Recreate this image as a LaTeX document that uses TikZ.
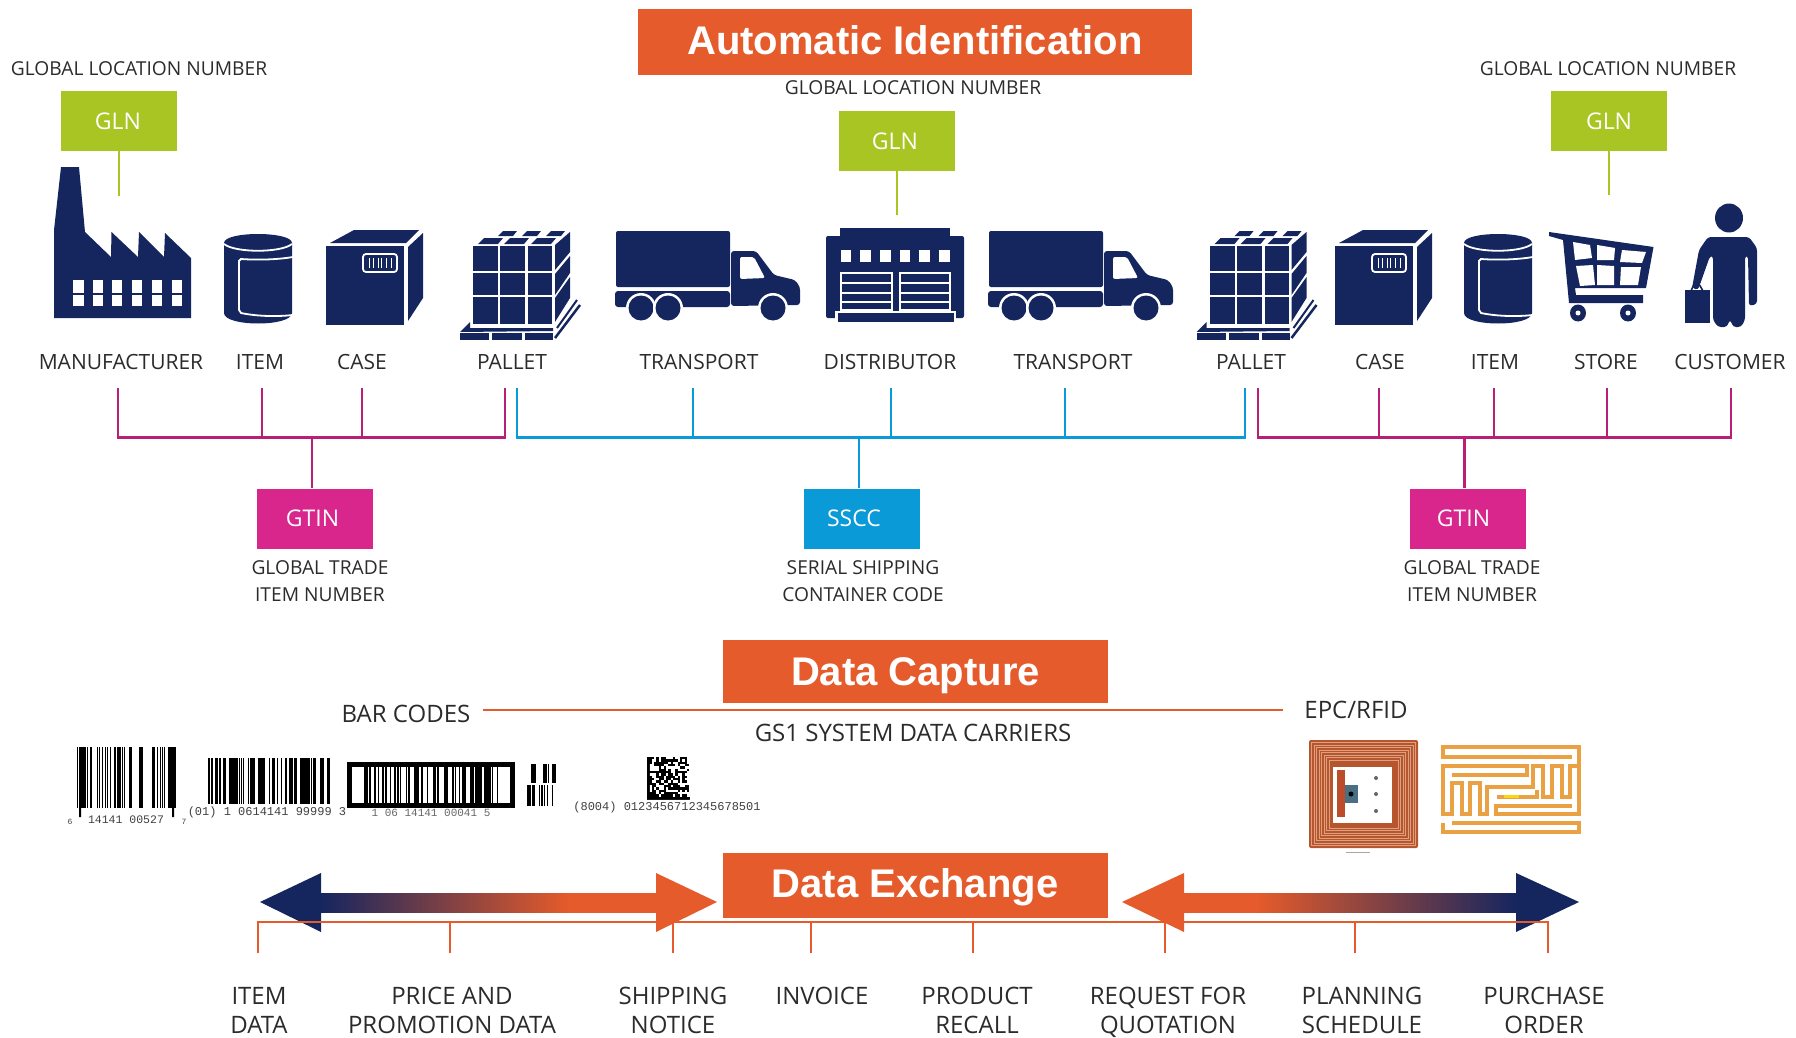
\documentclass[tikz,border=0pt]{standalone}
\usepackage{fontspec}
\setmainfont{Open Sans}
\newfontfamily\headfont{Liberation Sans}
\newfontfamily\codefont{Liberation Mono}
\definecolor{navy}{HTML}{15265F}
\definecolor{orange}{HTML}{E55B2B}
\definecolor{leaf}{HTML}{A8C523}
\definecolor{rose}{HTML}{D9268C}
\definecolor{sky}{HTML}{0A9AD8}
\definecolor{ink}{HTML}{2B2B2B}
\definecolor{copper}{HTML}{B5562F}
\definecolor{coil}{HTML}{E0A080}
\definecolor{foil}{HTML}{E9A144}
\pgfdeclarehorizontalshading{toorange}{100bp}{color(0bp)=(navy); color(25bp)=(navy); color(62bp)=(orange); color(100bp)=(orange)}
\pgfdeclarehorizontalshading{tonavy}{100bp}{color(0bp)=(orange); color(36bp)=(orange); color(75bp)=(navy); color(100bp)=(navy)}
\tikzset{
  icon/.style={fill=navy},
  gap/.style={draw=white, line width=1.8pt},
  lab/.style={text=ink, font=\fontsize{21}{25}\selectfont, inner sep=0pt, align=center},
  labs/.style={text=ink, font=\fontsize{19.2}{26.5}\selectfont, inner sep=0pt, align=center},
  labb/.style={text=ink, font=\fontsize{24}{29}\selectfont, inner sep=0pt, align=center},
  head/.style={fill=orange, text=white, font=\headfont\bfseries\fontsize{40}{48}\selectfont, inner sep=0pt},
  tag/.style={text=white, font=\fontsize{23}{28}\selectfont, minimum width=116pt, minimum height=60pt, inner sep=0pt},
  glnline/.style={draw=leaf, line width=2.4pt},
  roseline/.style={draw=rose!85!black, line width=2.4pt},
  skyline/.style={draw=sky, line width=2.4pt},
  orline/.style={draw=orange, line width=2pt},
  code/.style={text=black!75, font=\codefont\fontsize{12}{14}\selectfont, inner sep=0pt},
  can/.pic={
    \path[icon] (224,243) .. controls (224,231) and (292,231) .. (292,243) -- (292,313)
      .. controls (292,327) and (224,327) .. (224,313) -- cycle;
    \draw[gap] (224,244) .. controls (235,253) and (281,253) .. (292,244);
    \draw[gap] (293,257) .. controls (275,260) and (255,260) .. (241,259) -- (239,261) -- (239,310)
      -- (241,313) .. controls (255,316) and (275,317) .. (293,315);
  },
  carton/.pic={
    \path[icon] (326,246) rectangle (404,325);
    \path[icon] (330,243) -- (354,230) -- (419,230) -- (406,243) -- cycle;
    \path[icon] (408,247) -- (423,233) -- (423,298) -- (408,321) -- cycle;
    \draw[gap, rounded corners=3pt] (363,254) rectangle (397,272);
    \foreach \x in {369,373,378,381,386,391}
      \draw[white, line width=1pt] (\x,258) -- (\x,268);
  },
  crate/.pic={
    \foreach \x/\xe in {473/498,500/525,528/552}
      \foreach \y/\ye in {246/271,273/295,297/324}
        \path[icon] (\x,\y) rectangle (\xe,\ye);
    \foreach \x in {478,504,531}
      \path[icon] (\x,244) -- (\x+20,244) -- (\x+25,238) -- (\x+6,238) -- cycle;
    \foreach \x in {498,522,546}
      \path[icon] (\x,236) -- (\x+15,236) -- (\x+19,231) -- (\x+5,231) -- cycle;
    \path[icon] (555,245) -- (570,232) -- (570,252) -- (555,270) -- cycle;
    \path[icon] (555,274) -- (570,256) -- (570,273) -- (555,295) -- cycle;
    \path[icon] (555,298) -- (570,277) -- (570,298) -- (555,322) -- cycle;
    \path[icon] (460,332) -- (470,322) -- (470,328) -- (553,328) -- (553,331) -- cycle;
    \foreach \x/\xe in {460/489,492/522,525/553}
      \path[icon] (\x,333) rectangle (\xe,340);
    \draw[navy, line width=2.5pt] (555,338) -- (580,305);
    \draw[navy, line width=2pt] (557,328) -- (577,300);
  },
  lorry/.pic={
    \path[icon, rounded corners=2pt] (616,231) rectangle (730,287);
    \path[icon, rounded corners=3pt] (615,291) rectangle (730,307);
    \path[icon, rounded corners=3pt] (731,251) -- (756,251) -- (774,275) -- (795,280) -- (800,287)
      -- (800,305) -- (731,306) -- cycle;
    \path[fill=white, rounded corners=2pt] (740,257) -- (754,257) -- (765,278) -- (740,279) -- cycle;
    \foreach \x in {641,668,773} {
      \path[fill=white] (\x,308) circle (15);
      \path[icon] (\x,308) circle (12.5);
    }
  },
}
\newcommand{\barstrip}[6]{% x, module, count, top, bottom, threshold
  \foreach \i in {1,...,#3} {
    \pgfmathtruncatemacro\baron{rnd>#6 ? 1 : 0}
    \ifnum\baron=1
      \fill[black] ({#1+(\i-1)*#2},#4) rectangle ({#1+\i*#2},#5);
    \fi
  }
}
\begin{document}
\begin{tikzpicture}[x=1pt,y=-1pt]
  \useasboundingbox (0,0) rectangle (1796,1038);
  \pgfmathsetseed{41}

  % headings
  \node[head, text height=37pt, text depth=11pt, minimum width=554pt, minimum height=66pt] (autoid) at (915,42) {Automatic Identification};
  \node[head, text height=38pt, text depth=10pt, minimum width=385pt, minimum height=63pt] (capture) at (915.5,671.5) {Data Capture};
  \node[head, text height=36pt, text depth=12pt, minimum width=385pt, minimum height=65pt] (exchange) at (915,885.5) {Data Exchange};

  % GLN boxes
  \node[labs] (glnAtxt) at (139,69) {GLOBAL LOCATION NUMBER};
  \node[labs] (glnBtxt) at (913,88) {GLOBAL LOCATION NUMBER};
  \node[labs] (glnCtxt) at (1608,69) {GLOBAL LOCATION NUMBER};
  \node[tag, fill=leaf] (glnA) at (119,121) {GLN\hspace*{2pt}};
  \node[tag, fill=leaf] (glnB) at (897,141) {GLN\hspace*{4pt}};
  \node[tag, fill=leaf] (glnC) at (1609,121) {GLN};
  \coordinate (glnAend) at (119,196);
  \coordinate (glnBend) at (897,215);
  \coordinate (glnCend) at (1609,195);
  \foreach \n in {glnA,glnB,glnC}
    \draw[glnline] (\n.south) -- (\n end);

  % factory
  \path[icon] (61,167) -- (79,167) -- (85,232) -- (111,257) -- (111.5,232) -- (138,257) -- (139,232)
    -- (164,257) -- (165,233) -- (191,258) -- (191,318) -- (54,318) -- (54,230) -- cycle;
  \foreach \x/\xe in {73/84,93/103,112/122,132/142,152/162,172/182}
    \foreach \y/\ye in {280/293,295/306}
      \path[fill=white] (\x,\y) rectangle (\xe,\ye);

  % repeated icons
  \pic at (0,0) {can};
  \pic at (1240,0) {can};
  \pic at (0,0) {carton};
  \pic at (1009,0) {carton};
  \pic at (0,0) {crate};
  \pic at (736.5,0) {crate};
  \pic at (0,0) {lorry};
  \pic at (373,0) {lorry};

  % distributor
  \path[icon] (840,228) rectangle (950,238);
  \path[icon, rounded corners=2pt] (826,236) rectangle (964,318);
  \foreach \x/\xe in {841/851,860/871,880/891,900/910,919/930,939/950}
    \path[fill=white] (\x,250) rectangle (\xe,262);
  \foreach \x/\xe in {841/892,900/950} {
    \draw[white, line width=1.4pt] (\x,273) rectangle (\xe,310);
    \foreach \y in {283,292.5,301.5}
      \draw[white, line width=2pt] (\x,\y) -- (\xe,\y);
  }
  \path[fill=white] (835,310.5) rectangle (956,322);
  \path[icon] (838,313) rectangle (954,322);

  % cart
  \path[icon] (1549,232) -- (1653.5,247) -- (1646,288) -- (1575,288) -- (1576,295) -- (1643,295) -- (1643,303)
    -- (1569,303) -- (1563,240) -- (1549,236) -- cycle;
  \path[fill=white] (1573,242) -- (1590,245) -- (1592,258) -- (1575,260) -- cycle;
  \path[fill=white] (1597,245) -- (1615,248) -- (1614,260) -- (1597,260) -- cycle;
  \path[fill=white] (1622,250) -- (1646,252) -- (1642,263) -- (1620,262) -- cycle;
  \path[fill=white] (1576,266) -- (1593,265) -- (1595,285) -- (1580,286) -- cycle;
  \path[fill=white] (1597,265) -- (1614,266) -- (1614,285) -- (1597,285) -- cycle;
  \path[fill=white] (1621,267) -- (1641,267) -- (1638,285) -- (1620,285) -- cycle;
  \foreach \x in {1578,1628} {
    \path[icon] (\x,313) ellipse (8 and 8.5);
    \path[fill=white] (\x,313) circle (2.5);
  }

  % customer
  \path[icon] (1729,218) ellipse (14 and 14.5);
  \path[icon, rounded corners=3pt] (1708,237) -- (1749,237) -- (1757,248) -- (1757,304) -- (1749,306)
    -- (1748,256) -- (1745,256) -- (1745,320) -- (1741,327) -- (1733,327) -- (1730.5,320) -- (1729.5,320)
    -- (1727,327) -- (1718,327) -- (1713,320) -- (1713,256) -- (1710,256) -- (1698,290) -- (1692,288)
    -- (1699,250) -- cycle;
  \draw[navy, line width=1.6pt, rounded corners=2pt] (1691,291) -- (1694,284) -- (1699,284) -- (1703,291);
  \path[icon] (1685,290) rectangle (1710,323);

  % captions under the icons
  \foreach \n/\x/\t in {mfr/121/MANUFACTURER,itemA/260/ITEM,caseA/362/CASE,palletA/512/PALLET,
      transA/699/TRANSPORT,dist/890/DISTRIBUTOR,transB/1073/TRANSPORT,palletB/1251/PALLET,
      caseB/1380/CASE,itemB/1495/ITEM,store/1606/STORE,cust/1730/CUSTOMER}
    \node[lab] (\n) at (\x,362) {\t};

  % identifier boxes
  \node[tag, fill=rose] (gtinA) at (315,518.5) {GTIN\hspace*{5pt}};
  \node[tag, fill=sky] (sscc) at (862,518.5) {SSCC\hspace*{16pt}};
  \node[tag, fill=rose] (gtinB) at (1467.5,518.5) {GTIN\hspace*{8pt}};
  \node[labs] (gtinAtxt) at (320,581) {GLOBAL TRADE\\ITEM NUMBER};
  \node[labs] (ssccTxt) at (863,581) {SERIAL SHIPPING\\CONTAINER CODE};
  \node[labs] (gtinBtxt) at (1472,581) {GLOBAL TRADE\\ITEM NUMBER};

  % brackets
  \coordinate (busA) at (0,437.5);
  \foreach \n/\x in {pa/118,pb/262,pc/362,pd/505,qa/517,qb/693,qc/891,qd/1065,qe/1245,
      ra/1258,rb/1379,rc/1494,rd/1607,re/1731}
    \coordinate (\n) at (\x,388);
  \draw[roseline] (pa) -- (pa|-busA) -- (pd|-busA) -- (pd);
  \foreach \n in {pb,pc} \draw[roseline] (\n) -- (\n|-busA);
  \draw[roseline] ([xshift=-3pt]gtinA.north) -- ([xshift=-3pt]gtinA.north|-busA);
  \draw[skyline] (qa) -- (qa|-busA) -- (qe|-busA) -- (qe);
  \foreach \n in {qb,qc,qd} \draw[skyline] (\n) -- (\n|-busA);
  \draw[skyline] ([xshift=-3pt]sscc.north) -- ([xshift=-3pt]sscc.north|-busA);
  \draw[roseline] (ra) -- (ra|-busA) -- (re|-busA) -- (re);
  \foreach \n in {rb,rc,rd} \draw[roseline] (\n) -- (\n|-busA);
  \draw[roseline] ([xshift=-3pt]gtinB.north) -- ([xshift=-3pt]gtinB.north|-busA);

  % data capture row
  \node[labb] (barTxt) at (406,714) {BAR CODES};
  \node[labb] (carriers) at (913,733) {GS1 SYSTEM DATA CARRIERS};
  \node[labb] (epc) at (1356,710) {EPC/RFID};
  \coordinate (capL) at (483,710);
  \coordinate (capR) at (1283,710);
  \draw[orline] (capL) -- (capR);

  % bar codes
  \barstrip{77}{1.1}{90}{747}{808}{0.5}
  \fill[black] (79,747) rectangle (81,817) (172,747) rectangle (174,817);
  \node[code, font=\codefont\fontsize{11.5}{14}\selectfont] (codeA) at (126,820) {14141 00527};
  \node[code, font=\codefont\fontsize{8}{10}\selectfont] (codeAl) at (70,822) {6};
  \node[code, font=\codefont\fontsize{8}{10}\selectfont] (codeAr) at (184,822) {7};
  \barstrip{203}{1.15}{110}{758}{804}{0.42}
  \node[code] (codeB) at (267,812) {(01) 1 0614141 99999 3};
  \draw[black, line width=5pt] (349.5,764.5) rectangle (512.5,805.5);
  \barstrip{361}{1.15}{119}{767}{803}{0.5}
  \node[code, font=\codefont\fontsize{11}{14}\selectfont, text=black!60] (codeC) at (431,813) {1 06 14141 00041 5};
  \barstrip{527}{1.3}{23}{764}{783}{0.5}
  \barstrip{527}{1.3}{23}{785}{806}{0.5}
  \foreach \j in {0,...,17}
    \barstrip{647}{2.36}{18}{757+\j*2.33}{757+\j*2.33+2.33}{0.45}
  \fill[black] (647,757) rectangle (649,799) (647,797) rectangle (689.5,799);
  \node[code] (codeD) at (667,807) {(8004) 0123456712345678501};

  % RFID coil
  \path[fill=copper, rounded corners=2pt] (1309,740) rectangle (1418,848);
  \foreach \d in {2.5,5,...,20}
    \draw[coil, line width=0.7pt] (1309+\d,740+\d) rectangle (1418-\d,848-\d);
  \path[fill=white] (1333,767) rectangle (1392,823);
  \path[fill=copper!90!red] (1337,770) rectangle (1345,817);
  \path[fill=black!55!cyan] (1345,785) rectangle (1358,803);
  \path[fill=black] (1351,794) circle (2.5);
  \foreach \y in {778,794,811}
    \path[fill=black!60] (1376,\y) circle (2);
  \draw[black!35, line width=1pt] (1346,852) -- (1370,852);

  % RFID antenna
  \begin{scope}[shift={(1280,690)}, x=0.3333pt, y=-0.3333pt, foil, line width=4pt]
    \draw (875,200) -- (490,200) -- (490,172) -- (898,172) -- (898,372) -- (648,372) -- (648,348) -- (875,348);
    \draw (515,400) -- (898,400) -- (898,425) -- (490,425) -- (490,400);
    \draw (515,255) -- (740,255) -- (740,228) -- (490,228) -- (490,372) -- (515,372) -- (515,280) -- (545,280)
      -- (545,372) -- (570,372) -- (570,280) -- (600,280) -- (600,372) -- (622,372) -- (622,292) -- (760,292)
      -- (760,228) -- (790,228) -- (790,320) -- (815,320) -- (815,228) -- (845,228) -- (845,320) -- (870,320)
      -- (870,228) -- (898,228);
    \draw (650,320) -- (770,320) -- (770,300);
    \draw[yellow!80!orange, line width=3pt] (672,320) -- (718,320);
  \end{scope}

  % exchange arrows
  \shade[shading=toorange] (321,893) rectangle (656,912);
  \fill[navy] (260,902) -- (321,873) -- (321,932) -- cycle;
  \fill[orange] (717,902) -- (656,873) -- (656,932) -- cycle;
  \shade[shading=tonavy] (1184,893) rectangle (1516,912);
  \fill[orange] (1122,902) -- (1184,873) -- (1184,932) -- cycle;
  \fill[navy] (1579,902) -- (1516,873) -- (1516,932) -- cycle;

  % message types
  \foreach \n/\x/\tx/\t in {t1/258/259/{ITEM\\DATA},t2/450/452/{PRICE AND\\PROMOTION DATA},
      t3/673/673/{SHIPPING\\NOTICE},t4/811/822/{INVOICE},t5/973/977/{PRODUCT\\RECALL},
      t6/1165/1168/{REQUEST FOR\\QUOTATION},t7/1355/1362/{PLANNING\\SCHEDULE},t8/1548/1544/{PURCHASE\\ORDER}} {
    \coordinate (\n) at (\x,953);
    \node[labb, anchor=north] (\n txt) at (\tx,987) {\t};
  }
  \draw[orline] (t1) -- (t1|-0,922) -- (t8|-0,922) -- (t8);
  \foreach \n in {t2,t3,t4,t5,t6,t7}
    \draw[orline] (\n) -- (\n|-0,922);
\end{tikzpicture}
\end{document}
